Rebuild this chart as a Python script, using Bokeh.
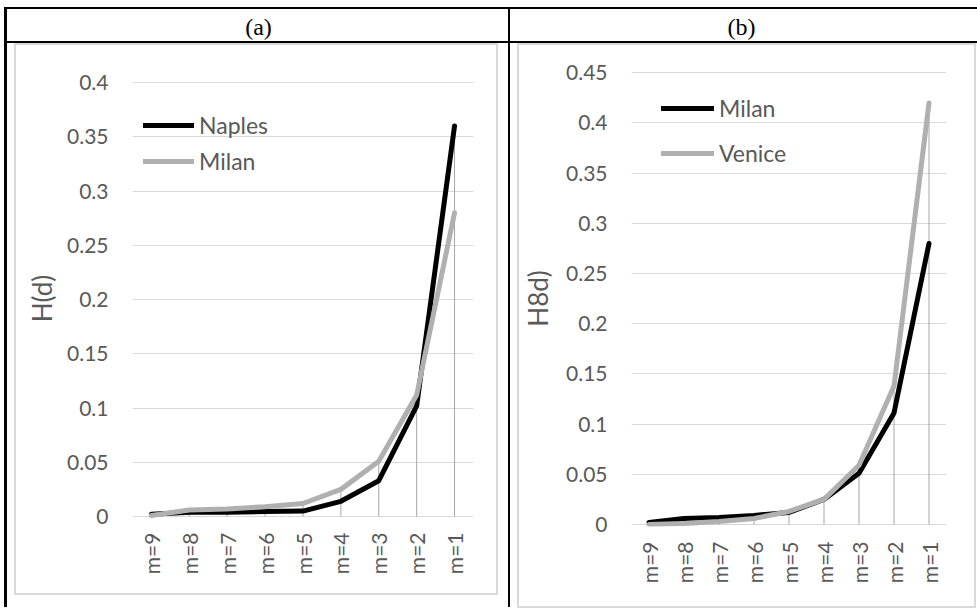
import math
from bokeh.plotting import figure
from bokeh.models import (FactorRange, Range1d, FixedTicker, Legend, LegendItem,
                          Label, Spacer)
from bokeh.layouts import row, column
from bokeh.embed import file_html
from bokeh.resources import INLINE

# ---------------- data ----------------
categories = ["m=9", "m=8", "m=7", "m=6", "m=5", "m=4", "m=3", "m=2", "m=1"]

naples_a = [0.002, 0.004, 0.004, 0.0045, 0.005, 0.014, 0.033, 0.102, 0.36]
milan_a = [0.001, 0.006, 0.007, 0.009, 0.012, 0.025, 0.051, 0.112, 0.28]

milan_b = [0.002, 0.006, 0.007, 0.009, 0.012, 0.025, 0.051, 0.111, 0.28]
venice_b = [0.0, 0.001, 0.003, 0.006, 0.013, 0.025, 0.059, 0.138, 0.42]

y_ticks_a = [0, 0.05, 0.1, 0.15, 0.2, 0.25, 0.3, 0.35, 0.4]
y_labels_a = ["0", "0.05", "0.1", "0.15", "0.2", "0.25", "0.3", "0.35", "0.4"]
y_ticks_b = [0, 0.05, 0.1, 0.15, 0.2, 0.25, 0.3, 0.35, 0.4, 0.45]
y_labels_b = ["0", "0.05", "0.1", "0.15", "0.2", "0.25", "0.3", "0.35", "0.4", "0.45"]

panel_titles = ["(a)", "(b)"]
y_titles = ["H(d)", "H8d)"]
series_names_a = ["Naples", "Milan"]
series_names_b = ["Milan", "Venice"]

# ---------------- style ----------------
FONT = "Lato"
TXT = "#595959"
GRID = "#d9d9d9"
AREA = "#d9d9d9"
BLACK = "#000000"
GRAY = "#b0b0b0"
DROP = "#a6a6a6"

CHART_H = 548          # both chart figures share the same height / vertical borders
BORDER_TOP = 25
BORDER_BOTTOM = 67


def rule(w, h, color):
    # a solid coloured strip used for the table rules and the chart-area borders
    return Spacer(width=w, height=h, styles={"background-color": color})


def header(w, fl, fr, text, cx, cy):
    f = figure(width=w, height=32, x_axis_type=None, y_axis_type=None,
               toolbar_location=None, output_backend="svg",
               min_border_left=fl, min_border_right=w - fr,
               min_border_top=0, min_border_bottom=0)
    f.outline_line_color = None
    f.border_fill_color = "white"
    f.background_fill_color = "white"
    f.add_layout(Label(x=cx, y=cy, x_units="screen", y_units="screen", text=text,
                       text_font="Liberation Serif", text_font_size="24px",
                       text_align="center", text_baseline="middle", text_color=BLACK))
    return f


def chart(W, fl, fr, y_start, y_end, ticks, labels, s1, s2, names, ytitle,
          x_standoff, title_standoff, leg_x, leg_y, leg_spacing, glyph_w):
    p = figure(width=W, height=CHART_H,
               x_range=FactorRange(*categories),
               y_range=Range1d(y_start, y_end),
               output_backend="svg", toolbar_location=None,
               min_border_left=fl, min_border_right=W - fr,
               min_border_top=BORDER_TOP, min_border_bottom=BORDER_BOTTOM)
    p.outline_line_color = None
    p.background_fill_color = "white"
    p.border_fill_color = "white"

    xa = p.xaxis[0]
    xa.major_label_orientation = math.pi / 2
    xa.major_tick_line_color = None
    xa.major_tick_in = 0
    xa.major_tick_out = 0
    xa.minor_tick_line_color = None
    xa.axis_line_color = None
    xa.major_label_standoff = x_standoff
    xa.major_label_text_font = FONT
    xa.major_label_text_font_size = "21px"
    xa.major_label_text_color = TXT

    ya = p.yaxis[0]
    ya.ticker = FixedTicker(ticks=ticks)
    ya.major_label_overrides = {t: s for t, s in zip(ticks, labels)}
    ya.axis_line_color = None
    ya.major_tick_line_color = None
    ya.minor_tick_line_color = None
    ya.major_tick_in = 0
    ya.major_tick_out = 0
    ya.major_label_standoff = 24
    ya.major_label_text_font = FONT
    ya.major_label_text_font_size = "21px"
    ya.major_label_text_color = TXT
    ya.axis_label = ytitle
    ya.axis_label_text_font = FONT
    ya.axis_label_text_font_size = "26px"
    ya.axis_label_text_font_style = "normal"
    ya.axis_label_text_color = TXT
    ya.axis_label_standoff = title_standoff

    p.xgrid.grid_line_color = None
    p.ygrid.grid_line_color = GRID
    p.ygrid.grid_line_width = 1

    # drop lines from the higher of the two series down to zero
    tops = [max(a, b) for a, b in zip(s1, s2)]
    p.segment(x0=categories, y0=[0] * len(categories), x1=categories, y1=tops,
              line_color=DROP, line_width=1)

    r1 = p.line(categories, s1, line_color=BLACK, line_width=5,
                line_cap="round", line_join="round")
    r2 = p.line(categories, s2, line_color=GRAY, line_width=5,
                line_cap="round", line_join="round")

    legend = Legend(items=[LegendItem(label=names[0], renderers=[r1]),
                           LegendItem(label=names[1], renderers=[r2])],
                    location=(leg_x, leg_y), orientation="vertical",
                    padding=0, margin=0, spacing=leg_spacing,
                    glyph_width=glyph_w, glyph_height=28, label_height=28,
                    label_standoff=5, border_line_color=None,
                    background_fill_alpha=0,
                    label_text_font=FONT, label_text_font_size="23px",
                    label_text_color=TXT)
    p.add_layout(legend)
    return p


# page geometry (px): shared frame spans y 70..526
FRAME_TOP, FRAME_BOT = 70, 526
# chart (a): 0 -> y 516, 0.4 -> y 82
ppu_a = (516 - 82) / 0.4
ya0 = -(FRAME_BOT - 516) / ppu_a
ya1 = 0.4 + (82 - FRAME_TOP) / ppu_a
# chart (b): 0 -> y 524, 0.45 -> y 72.3
ppu_b = (524 - 72.3) / 0.45
yb0 = -(FRAME_BOT - 524) / ppu_b
yb1 = 0.45 + (72.3 - FRAME_TOP) / ppu_b

chart_a = chart(480, 116, 457, ya0, ya1, y_ticks_a, y_labels_a, naples_a, milan_a,
                series_names_a, y_titles[0], x_standoff=6, title_standoff=6,
                leg_x=11, leg_y=FRAME_BOT - 175, leg_spacing=8, glyph_w=51)
chart_b = chart(455, 108, 427, yb0, yb1, y_ticks_b, y_labels_b, milan_b, venice_b,
                series_names_b, y_titles[1], x_standoff=15, title_standoff=9,
                leg_x=30, leg_y=FRAME_BOT - 167, leg_spacing=17, glyph_w=53)

hdr_a = header(480, 116, 457, panel_titles[0], 126, 15)
hdr_b = header(455, 108, 427, panel_titles[1], 114, 15)

area_a = column(rule(484, 2, AREA),
                row(rule(2, 548, AREA), chart_a, rule(2, 548, AREA)),
                rule(484, 2, AREA))
area_b = column(rule(459, 2, AREA),
                row(rule(2, 561, AREA),
                    column(chart_b, Spacer(width=455, height=13)),
                    rule(2, 561, AREA)),
                rule(459, 2, AREA))

cell_a = row(Spacer(width=7, height=567),
             column(area_a, Spacer(width=484, height=15)),
             Spacer(width=10, height=567))
cell_b = row(Spacer(width=7, height=567),
             column(area_b, Spacer(width=459, height=2)),
             Spacer(width=1, height=567))

hdr_cell_a = row(Spacer(width=9, height=32), hdr_a, Spacer(width=12, height=32))
hdr_cell_b = row(Spacer(width=9, height=32), hdr_b, Spacer(width=3, height=32))

layout = column(
    Spacer(width=977, height=7),
    row(Spacer(width=4, height=2), rule(973, 2, BLACK)),
    row(Spacer(width=4, height=32), rule(3, 32, BLACK), hdr_cell_a,
        rule(2, 32, BLACK), hdr_cell_b),
    row(Spacer(width=4, height=2), rule(973, 2, BLACK)),
    row(Spacer(width=4, height=567),
        column(rule(3, 564, BLACK), Spacer(width=3, height=3)),
        cell_a,
        column(rule(2, 564, BLACK), Spacer(width=2, height=3)),
        cell_b),
)

open("out.html", "w").write(file_html(layout, INLINE))
